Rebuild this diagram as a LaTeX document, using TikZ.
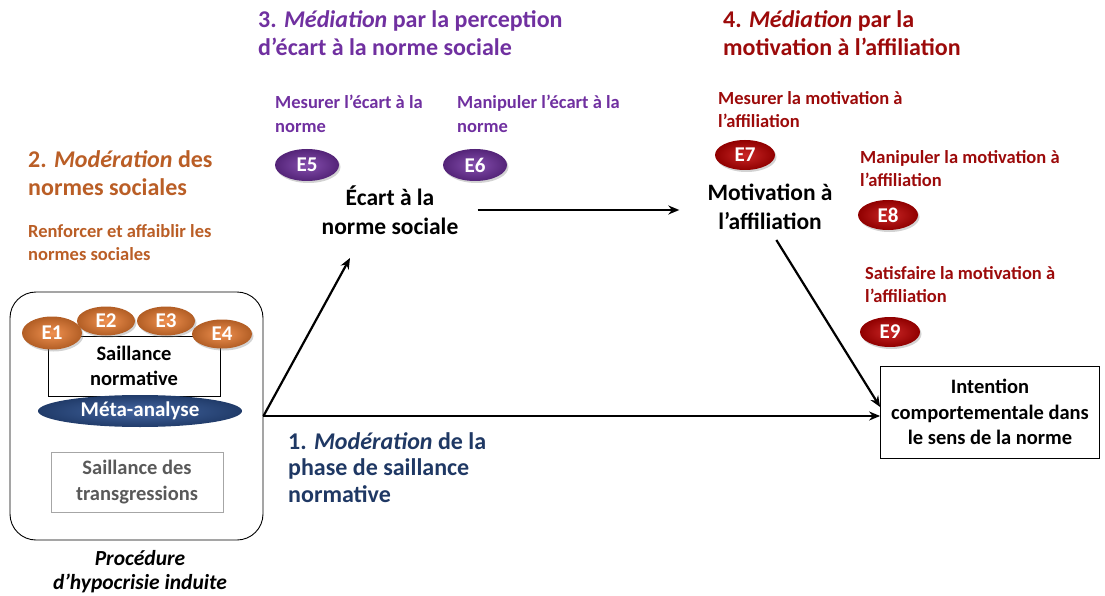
\documentclass[tikz,border=0pt]{standalone}
\usepackage{fontspec}
\setmainfont{Carlito}
\usepackage{xcolor}
\usepackage{tikz}
\usetikzlibrary{shapes.geometric, arrows.meta, positioning, shadows}

\definecolor{orangeE}{HTML}{ED7D31}
\definecolor{brownT}{HTML}{BA5E26}
\definecolor{purpleT}{HTML}{7030A0}
\definecolor{redT}{HTML}{9C0A0A}
\definecolor{redE}{HTML}{C00000}
\definecolor{blueT}{HTML}{1F3864}
\definecolor{blueM}{HTML}{2F5597}

\begin{document}
\begin{tikzpicture}[
  x=1pt, y=-1pt,
  estim/.style={ellipse, shading=radial, inner color=#1!85!white,
                outer color=#1!75!black, draw=none, minimum width=58pt,
                minimum height=31pt, inner sep=0pt, text=white,
                font=\fontsize{21}{22}\selectfont\bfseries,
                drop shadow={opacity=0.35, shadow xshift=1.5pt, shadow yshift=-2pt}},
  estim/.default=orangeE,
  title/.style={anchor=north west, inner sep=0pt, align=left,
                font=\fontsize{24}{28}\selectfont\bfseries, text=#1},
  sub/.style={anchor=north west, inner sep=0pt, align=left,
              font=\fontsize{18.5}{23.5}\selectfont\bfseries, text=#1},
  concept/.style={align=center, inner sep=0pt,
                  font=\fontsize{23.5}{28.5}\selectfont\bfseries},
  phase/.style={rectangle, draw=#1, align=center, minimum width=172pt,
                minimum height=60pt, inner sep=0pt, line width=0.8pt,
                font=\fontsize{20.5}{25.5}\selectfont\bfseries},
  phase/.default=black,
  arr/.style={line width=2.2pt, -{Stealth[length=11pt, width=9pt]}},
]
  \useasboundingbox (0,0) rectangle (1105,596);

  % -- procedure (left) --
  \node[rectangle, rounded corners=26pt, draw, line width=0.9pt,
        minimum width=253pt, minimum height=248pt] (hypo) at (136.5,416) {};
  \node[phase] (saill) at (134,366) {Saillance\\normative};
  \node[phase=gray!70, text=black!65] (transg) at (137,482) {Saillance des\\transgressions};
  \node[ellipse, shading=radial, inner color=blueM!90!white, outer color=blueM!70!black,
        minimum width=204pt, minimum height=32pt, inner sep=0pt, text=white,
        font=\fontsize{21}{22}\selectfont\bfseries]
        (meta) at (140,411) {Méta-analyse};
  \node[estim, minimum height=29pt] (e2) at (106,321) {E2};
  \node[estim, minimum height=29pt] (e3) at (166,321) {E3};
  \node[estim, minimum width=60pt, minimum height=33pt] (e1) at (52,333) {E1};
  \node[estim, minimum width=60pt, minimum height=29pt] (e4) at (222,334) {E4};
  \node[concept, font=\fontsize{21.5}{24}\selectfont\bfseries\itshape]
        (proc) at (140,572) {Procédure\\d’hypocrisie induite};

  % -- 2. moderation des normes --
  \node[title=brownT] (h2) at (28,150) {2. \textit{Modération} des\\normes sociales};
  \node[sub=brownT] (r2) at (28,224) {Renforcer et affaiblir les\\normes sociales};

  % -- 3. ecart a la norme --
  \node[title=purpleT] (h3) at (258,10) {3. \textit{Médiation} par la perception\\d’écart à la norme sociale};
  \node[sub=purpleT] (m5) at (275,95) {Mesurer l’écart à la\\norme};
  \node[sub=purpleT] (m6) at (457,95) {Manipuler l’écart à la\\norme};
  \node[estim=purpleT, minimum width=64pt, minimum height=32pt] (e5) at (307,165) {E5};
  \node[estim=purpleT, minimum width=64pt, minimum height=32pt] (e6) at (475,165) {E6};
  \node[concept] (ecart) at (390,210) {Écart à la\\norme sociale};

  % -- 4. motivation a l'affiliation --
  \node[title=redT] (h4) at (723,10) {4. \textit{Médiation} par la\\motivation à l’affiliation};
  \node[sub=redT] (m7) at (718,91) {Mesurer la motivation à\\l’affiliation};
  \node[sub=redT] (m8) at (860,150) {Manipuler la motivation à\\l’affiliation};
  \node[sub=redT] (m9) at (865,266) {Satisfaire la motivation à\\l’affiliation};
  \node[estim=redE, minimum width=60pt, minimum height=30pt] (e7) at (745,155) {E7};
  \node[estim=redE, minimum width=60pt, minimum height=30pt] (e8) at (888,215) {E8};
  \node[estim=redE, minimum width=60pt, minimum height=30pt] (e9) at (890,332) {E9};
  \node[concept] (motiv) at (770,207) {Motivation à\\l’affiliation};

  % -- outcome --
  \node[phase, minimum width=219pt, minimum height=92pt] (intent) at (990,412)
        {Intention\\comportementale dans\\le sens de la norme};

  % -- 1. moderation de la saillance --
  \node[title=blueT, font=\fontsize{24}{26.5}\selectfont\bfseries] (mod1) at (288,432)
        {1. \textit{Modération} de la\\phase de saillance\\normative};

  % -- arrows --
  \coordinate (up) at (350,258);
  \draw[arr] (hypo.east) -- (up);
  \draw[arr] (hypo.east) -- (hypo.east -| intent.west);
  \draw[arr, shorten <=19pt, shorten >=28pt] (ecart.east) -- (ecart.east -| motiv.west);
  \draw[arr, shorten <=12pt] (motiv.south) -- ([yshift=5pt]intent.west);
\end{tikzpicture}
\end{document}
